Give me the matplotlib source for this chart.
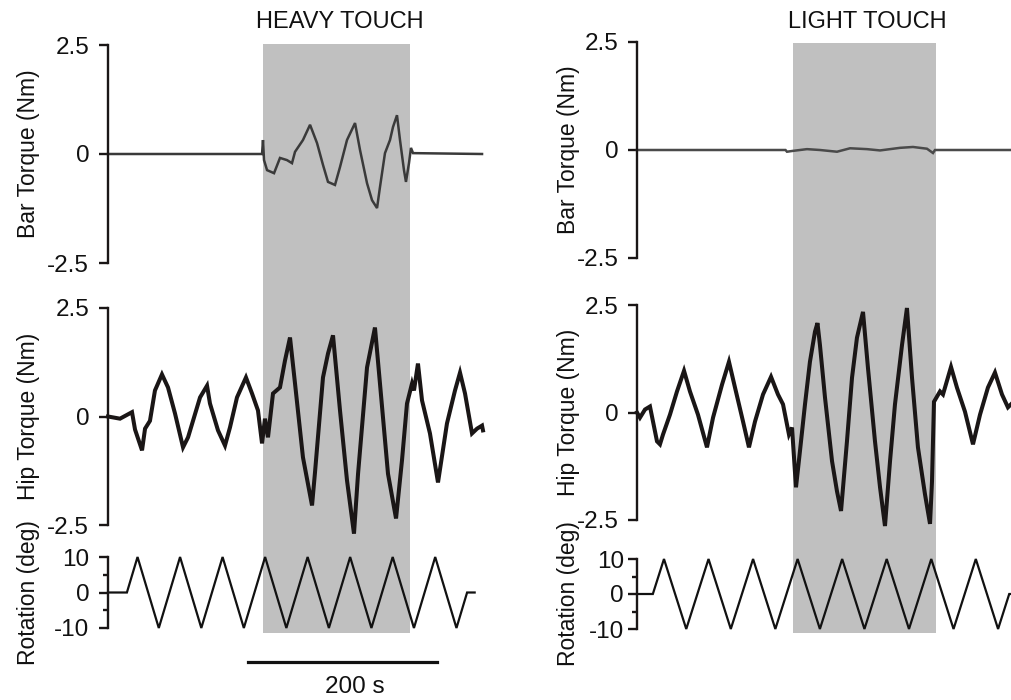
import matplotlib
matplotlib.use("Agg")
import matplotlib.pyplot as plt
from matplotlib.patches import Rectangle
from matplotlib.lines import Line2D
from matplotlib.transforms import blended_transform_factory
from matplotlib.ticker import FixedLocator, FixedFormatter

plt.rcParams['font.family'] = ['Liberation Sans', 'DejaVu Sans']
plt.rcParams['axes.unicode_minus'] = False

# ---------------- data ----------------
titles = ["HEAVY TOUCH", "LIGHT TOUCH"]
torque_ticks = [-2.5, 0, 2.5]
torque_ticklabels = ["-2.5", "0", "2.5"]
rot_ticks = [-10, 0, 10]
rot_ticklabels = ["-10", "0", "10"]
rot_minor = [-5, 5]

# time in seconds
heavy_bar_t = [0, 163.0, 164.0, 165.1, 168.3, 175.7, 182.0, 189.4, 194.7, 197.9, 206.3, 213.8,
               221.2, 227.5, 232.8, 240.2, 245.5, 252.9, 261.4, 266.7, 274.1, 279.4, 284.7,
               287.8, 293.1, 298.4, 301.6, 305.8, 309.0, 313.2, 315.3, 318.5, 320.6, 322.8, 395.8]
heavy_bar_v = [0, 0, 0.32, -0.14, -0.37, -0.44, -0.09, -0.14, -0.21, 0.05, 0.32, 0.67,
               0.25, -0.25, -0.64, -0.71, -0.3, 0.32, 0.71, 0.09, -0.67, -1.06, -1.24,
               -0.76, 0.02, 0.32, 0.62, 0.89, 0.32, -0.37, -0.64, -0.21, 0.14, 0.02, 0]

heavy_hip_t = [0, 12.7, 25.4, 28.6, 36.0, 39.2, 44.4, 49.7, 57.1, 63.5, 70.9, 79.4, 84.7, 97.4,
               104.8, 107.9, 116.4, 123.8, 129.1, 136.5, 146.0, 152.4, 158.7, 163.0, 166.1,
               169.3, 174.6, 182.0, 187.3, 192.6, 197.9, 206.3, 215.9, 219.0, 227.5, 232.8,
               238.1, 245.5, 252.9, 260.3, 264.6, 274.1, 282.5, 287.8, 296.3, 304.8, 311.1,
               316.4, 321.7, 323.8, 328.0, 332.3, 340.7, 349.2, 358.7, 367.2, 372.5, 377.8,
               385.2, 390.5, 395.8, 396.8]
heavy_hip_v = [0, -0.05, 0.1, -0.3, -0.78, -0.28, -0.1, 0.6, 0.97, 0.67, 0.07, -0.71, -0.48, 0.44,
               0.71, 0.3, -0.32, -0.67, -0.25, 0.44, 0.9, 0.53, 0.14, -0.62, -0.05,
               -0.48, 0.53, 0.67, 1.29, 1.82, 0.76, -0.94, -2.05, -1.3, 0.9, 1.45,
               1.87, 0.14, -1.47, -2.7, -1.32, 1.13, 2.05, 0.76, -1.32, -2.35, -1.01,
               0.3, 0.76, 0.6, 1.22, 0.37, -0.39, -1.52, -0.16, 0.6, 1.01, 0.53,
               -0.39, -0.28, -0.21, -0.32]

heavy_rot_t = [0, 20, 31.25, 53.75, 76.25, 98.75, 121.25, 143.75, 166.25, 188.75, 211.25,
               233.75, 256.25, 278.75, 301.25, 323.75, 346.25, 368.75, 380, 388]
heavy_rot_v = [0, 0, 10, -10, 10, -10, 10, -10, 10, -10, 10,
               -10, 10, -10, 10, -10, 10, -10, 0, 0]

light_bar_t = [0, 150.0, 151.5, 157.6, 171.7, 184.8, 202.0, 215.2, 232.3, 245.5, 265.7,
               278.8, 292.9, 299.0, 301.0, 377.8]
light_bar_v = [0, 0, -0.04, -0.02, 0.02, 0.0, -0.04, 0.04, 0.02, -0.01, 0.05,
               0.07, 0.03, -0.07, 0.0, 0]

light_hip_t = [0, 3.0, 8.1, 13.1, 20.2, 23.2, 26.3, 33.3, 40.4, 47.5, 53.5, 61.6, 70.7, 76.8,
               85.9, 92.9, 99.0, 107.1, 113.1, 119.2, 127.3, 135.4, 142.4, 147.5, 153.5,
               156.6, 160.6, 164.6, 169.7, 174.7, 179.8, 182.3, 184.8, 189.9, 197.0, 202.0,
               206.1, 212.1, 217.2, 222.2, 228.3, 233.3, 240.4, 245.5, 250.5, 255.6, 260.6,
               267.7, 272.7, 277.8, 283.8, 290.9, 296.0, 298.0, 300.0, 306.1, 309.1, 317.2,
               323.2, 331.3, 339.4, 346.5, 354.5, 361.6, 368.7, 374.7, 377.8]
light_hip_v = [0, -0.12, 0.07, 0.14, -0.67, -0.74, -0.51, -0.05, 0.49, 0.97, 0.49, -0.05, -0.81, -0.12,
               0.65, 1.18, 0.58, -0.21, -0.81, -0.21, 0.42, 0.83, 0.42, 0.19, -0.51,
               -0.35, -1.74, -0.9, 0.19, 1.18, 1.88, 2.08, 1.57, 0.35, -1.13, -1.83,
               -2.29, -0.67, 0.81, 1.74, 2.34, 1.04, -0.67, -1.74, -2.64, -1.13, 0.19,
               1.57, 2.43, 0.81, -0.81, -1.9, -2.59, -1.6, 0.25, 0.49, 0.42, 1.06,
               0.58, 0.02, -0.74, -0.05, 0.58, 0.93, 0.42, 0.12, 0.19]

light_rot_t = [0, 16, 27.25, 49.75, 72.25, 94.75, 117.25, 139.75, 162.25, 184.75, 207.25,
               229.75, 252.25, 274.75, 297.25, 319.75, 342.25, 364.75, 376, 385]
light_rot_v = [0, 0, 10, -10, 10, -10, 10, -10, 10, -10, 10,
               -10, 10, -10, 10, -10, 10, -10, 0, 0]

touch_window = [(164.0, 319.6), (157.6, 302.0)]
scale_bar = (148.0, 348.0)
scale_label = "200 s"
xlims = [(0, 400), (0, 377.8)]

# ---------------- layout (pixels) ----------------
W, H = 1011, 700
fig = plt.figure(figsize=(W / 100, H / 100), dpi=100)


def rect(x0, x1, ytop, ybot):
    return [x0 / W, 1 - ybot / H, (x1 - x0) / W, (ybot - ytop) / H]


panels = [
    dict(x0=108, x1=486, bar=(45, 263), hip=(308, 525), rot=(557, 628), label_x=28,
         title_x=340, shade_top=44, pad_t=7, pad_r=7),
    dict(x0=637, x1=1011, bar=(42, 258), hip=(305, 520), rot=(559, 629), label_x=568,
         title_x=867, shade_top=43, pad_t=7, pad_r=3),
]

data = [
    (heavy_bar_t, heavy_bar_v, heavy_hip_t, heavy_hip_v, heavy_rot_t, heavy_rot_v, '#3a3a3a'),
    (light_bar_t, light_bar_v, light_hip_t, light_hip_v, light_rot_t, light_rot_v, '#4a4a4a'),
]

ink = '#1a1616'


def style_axis(ax, ticks, labels, ylim, xlim, pad, minor=None):
    ax.set_facecolor('none')
    ax.set_xlim(*xlim)
    ax.set_ylim(*ylim)
    for s in ['top', 'right', 'bottom']:
        ax.spines[s].set_visible(False)
    ax.spines['left'].set_linewidth(1.7)
    ax.spines['left'].set_color(ink)
    ax.set_xticks([])
    ax.yaxis.set_major_locator(FixedLocator(ticks))
    ax.yaxis.set_major_formatter(FixedFormatter(labels))
    ax.tick_params(axis='y', which='major', length=6.5, width=1.7, color=ink,
                   labelsize=17.5, pad=pad, direction='out', labelcolor='#111111')
    if minor is not None:
        ax.yaxis.set_minor_locator(FixedLocator(minor))
        ax.tick_params(axis='y', which='minor', length=3.5, width=1.7, color=ink,
                       direction='out')


for i, (p, d) in enumerate(zip(panels, data)):
    bt, bv, ht, hv, rt, rv, barcol = d
    ax_bar = fig.add_axes(rect(p['x0'], p['x1'], *p['bar']))
    ax_hip = fig.add_axes(rect(p['x0'], p['x1'], *p['hip']))
    ax_rot = fig.add_axes(rect(p['x0'], p['x1'], *p['rot']))

    style_axis(ax_bar, torque_ticks, torque_ticklabels, (-2.5, 2.5), xlims[i], p['pad_t'])
    style_axis(ax_hip, torque_ticks, torque_ticklabels, (-2.5, 2.5), xlims[i], p['pad_t'])
    style_axis(ax_rot, rot_ticks, rot_ticklabels, (-10, 10), xlims[i], p['pad_r'], rot_minor)

    ax_bar.plot(bt, bv, color=barcol, lw=1.8, clip_on=False, solid_joinstyle='miter')
    ax_hip.plot(ht, hv, color=ink, lw=2.9, clip_on=False, solid_joinstyle='miter')
    ax_rot.plot(rt, rv, color='#111111', lw=1.6, clip_on=False, solid_joinstyle='miter')

    for ax, name in [(ax_bar, "Bar Torque (Nm)"), (ax_hip, "Hip Torque (Nm)"),
                     (ax_rot, "Rotation (deg)")]:
        ax.set_ylabel(name, fontsize=16.5, va='center', ha='center', color='#111111')
        ax.yaxis.set_label_coords((p['label_x'] - p['x0']) / (p['x1'] - p['x0']), 0.5)

    # shaded touch window spanning all three traces
    tr = blended_transform_factory(ax_rot.transData, fig.transFigure)
    t0, t1 = touch_window[i]
    ybot = 1 - 633 / H
    ytop = 1 - p['shade_top'] / H
    fig.patches.append(Rectangle((t0, ybot), t1 - t0, ytop - ybot, transform=tr,
                                 facecolor='#c0c0c0', edgecolor='none', zorder=-1))

    fig.text(p['title_x'] / W, 1 - 22 / H, titles[i], ha='center', va='center',
             fontsize=17, color='#111111')

    if i == 0:
        trs = blended_transform_factory(ax_rot.transData, fig.transFigure)
        fig.add_artist(Line2D([scale_bar[0], scale_bar[1]], [1 - 662 / H, 1 - 662 / H],
                              transform=trs, color='#111111', lw=2.3))
        fig.text(355 / W, 1 - 687 / H, scale_label, ha='center', va='center',
                 fontsize=17.5, color='#111111')

fig.savefig('out.png', dpi=100, facecolor='white')
